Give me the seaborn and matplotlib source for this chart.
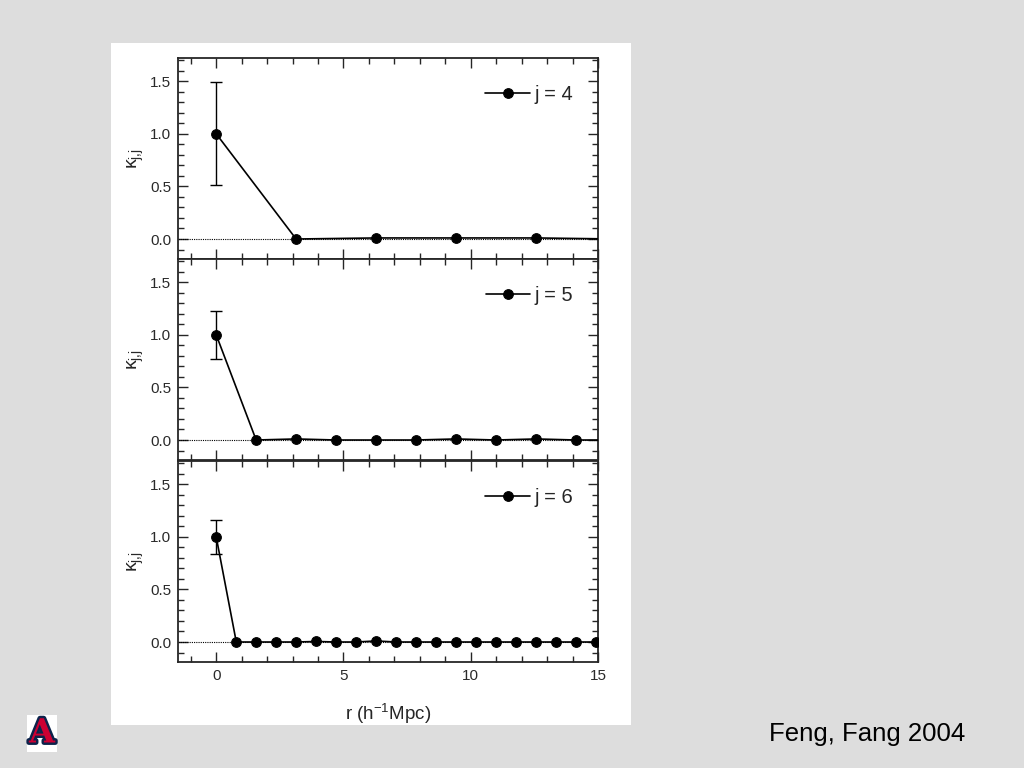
import numpy as np
import pandas as pd
import seaborn as sns
import matplotlib.pyplot as plt
import matplotlib.patheffects as pe
from matplotlib.patches import Rectangle
from matplotlib.ticker import MultipleLocator

# correlation kappa_{j,j} vs separation r for j = 4, 5, 6
j4_r = [0.0, 3.14, 6.28, 9.42, 12.57, 15.71]
j4_k = [1.0, 0.0, 0.01, 0.01, 0.01, 0.0]
j4_err = 0.49

j5_r = [0.0, 1.57, 3.14, 4.71, 6.28, 7.85, 9.42, 11.0, 12.57, 14.14, 15.71]
j5_k = [1.0, 0.0, 0.01, 0.0, 0.0, 0.0, 0.01, 0.0, 0.01, 0.0, 0.0]
j5_err = 0.23

j6_r = [0.0, 0.79, 1.57, 2.36, 3.14, 3.93, 4.71, 5.50, 6.28, 7.07,
        7.85, 8.64, 9.42, 10.21, 11.0, 11.78, 12.57, 13.35, 14.14, 14.92]
j6_k = [1.0, 0.0, 0.0, 0.0, 0.0, 0.005, 0.0, 0.0, 0.01, 0.0,
        0.0, 0.0, 0.0, 0.0, 0.0, 0.0, 0.0, 0.0, 0.0, 0.0]
j6_err = 0.16

panels = [('j = 4', j4_r, j4_k, j4_err),
          ('j = 5', j5_r, j5_k, j5_err),
          ('j = 6', j6_r, j6_k, j6_err)]

sns.set_style('ticks')
plt.rcParams['font.family'] = ['Liberation Sans', 'DejaVu Sans']
plt.rcParams['mathtext.default'] = 'regular'

fig = plt.figure(figsize=(10.24, 7.68), dpi=100)
fig.patch.set_facecolor('#dddddd')
# white slide panel behind the plots
fig.patches.append(Rectangle((111 / 1024, 1 - 725 / 768), 520 / 1024, 682 / 768,
                             transform=fig.transFigure, facecolor='white',
                             edgecolor='none', zorder=-10))

left, width, h = 178 / 1024, 420 / 1024, 201 / 768
bottoms = [1 - 259 / 768, 1 - 460 / 768, 1 - 662 / 768]

for i, (label, r, k, err) in enumerate(panels):
    ax = fig.add_axes([left, bottoms[i], width, h])
    ax.set_facecolor('white')
    df = pd.DataFrame({'r': r, 'k': k})
    ax.axhline(0, color='black', lw=0.8, ls=(0, (1, 1)), zorder=1)
    sns.lineplot(data=df, x='r', y='k', ax=ax, color='black', lw=1.2,
                 marker='o', markersize=7, markeredgecolor='black',
                 label=label, zorder=3)
    ax.errorbar(r[0], k[0], yerr=err, fmt='none', ecolor='black',
                elinewidth=1.0, capsize=4, capthick=1.0, zorder=2)
    ax.set_xlim(-1.5, 15)
    ax.set_ylim(-0.19, 1.72)
    ax.xaxis.set_major_locator(MultipleLocator(5))
    ax.xaxis.set_minor_locator(MultipleLocator(1))
    ax.yaxis.set_major_locator(MultipleLocator(0.5))
    ax.yaxis.set_minor_locator(MultipleLocator(0.1))
    ax.tick_params(which='both', direction='in', top=True, right=True,
                   labelsize=11, labelcolor='#2a2a2a', width=1.0)
    ax.tick_params(which='major', length=7, pad=5)
    ax.tick_params(which='minor', length=4)
    for s in ax.spines.values():
        s.set_linewidth(1.3)
    ax.set_ylabel(r'$\kappa_{j{,}j}$', fontsize=14, labelpad=3)
    if i < 2:
        ax.set_xlabel('')
        ax.tick_params(labelbottom=False)
    else:
        ax.set_xlabel(r'r (h$^{-1}$Mpc)', fontsize=13.5, labelpad=14)
    ax.legend(loc='upper right', frameon=False, fontsize=14.5,
              handlelength=2.2, handletextpad=0.25, markerscale=1.0,
              bbox_to_anchor=(0.985, 0.955))

fig.text(769 / 1024, 1 - 734 / 768, 'Feng, Fang 2004', fontsize=18.5,
         ha='left', va='center', color='black')

fig.text(42 / 1024, 1 - 733 / 768, 'A', fontsize=24, fontweight='bold',
         family='DejaVu Serif', color='#cc0033', ha='center', va='center',
         path_effects=[pe.withStroke(linewidth=3.5, foreground='#0c234b')],
         bbox=dict(facecolor='white', edgecolor='none', pad=1.5))

plt.savefig('out.png', dpi=100, facecolor=fig.get_facecolor())
